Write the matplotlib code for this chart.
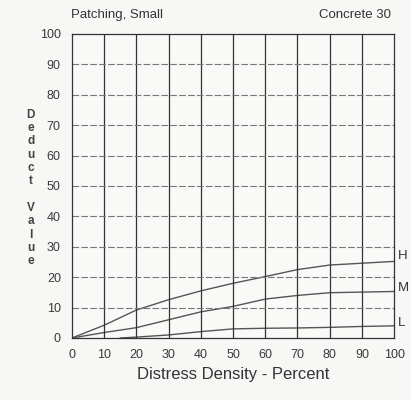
import matplotlib.pyplot as plt

density = [0, 10, 20, 30, 40, 50, 60, 70, 80, 90, 100]
high = [0, 4.2, 9.2, 12.6, 15.5, 18.0, 20.2, 22.5, 24.0, 24.6, 25.2]
medium = [0, 1.8, 3.4, 6.0, 8.6, 10.4, 12.8, 14.0, 14.9, 15.1, 15.3]
low_x = [15, 20, 30, 40, 50, 60, 70, 80, 90, 100]
low = [0, 0.3, 1.0, 2.1, 3.0, 3.2, 3.3, 3.5, 3.8, 4.0]

ticks = list(range(0, 101, 10))

plt.rcParams['font.family'] = ['Liberation Sans', 'DejaVu Sans']

fig = plt.figure(figsize=(4.11, 4.0), dpi=100, facecolor='#f7f7f5')
ax = fig.add_axes([0.175, 0.155, 0.784, 0.76])
ax.set_facecolor('#f9f9f7')

ax.plot(density, high, color='#555555', lw=1.0)
ax.plot(density, medium, color='#555555', lw=1.0)
ax.plot(low_x, low, color='#555555', lw=1.0)

ax.set_xlim(0, 100)
ax.set_ylim(0, 100)
ax.set_xticks(ticks)
ax.set_yticks(ticks)
for x in ticks[1:-1]:
    ax.axvline(x, color='#333333', lw=0.9)
for y in ticks[1:-1]:
    ax.axhline(y, color='#777777', lw=0.8, ls=(0, (6, 2)))

for s in ax.spines.values():
    s.set_color('#333333')
    s.set_linewidth(0.9)
ax.tick_params(length=0, pad=8, labelsize=9, colors='#3a3a3a')

ax.set_xlabel('Distress Density - Percent', fontsize=12, color='#333333', labelpad=4)

fig.text(0.172, 0.962, 'Patching, Small', fontsize=9.5, color='#333333', va='center')
fig.text(0.952, 0.962, 'Concrete 30', fontsize=9.5, color='#333333', va='center', ha='right')

label = '\n'.join('Deduct Value')
fig.text(0.075, 0.53, label, fontsize=8.5, color='#444444', ha='center', va='center',
         linespacing=1.15, fontweight='bold')

ax.text(101.2, 27, 'H', fontsize=9.5, color='#333333', va='center', clip_on=False)
ax.text(101.2, 16.5, 'M', fontsize=9.5, color='#333333', va='center', clip_on=False)
ax.text(101.2, 5, 'L', fontsize=9.5, color='#333333', va='center', clip_on=False)

fig.savefig('out.png', dpi=100, facecolor=fig.get_facecolor())
